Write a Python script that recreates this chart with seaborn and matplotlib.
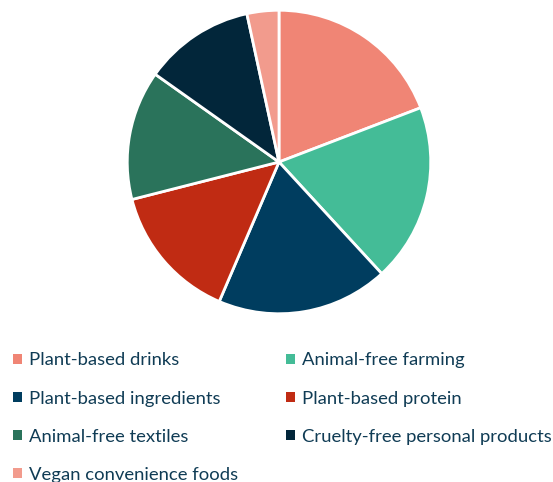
import matplotlib
matplotlib.use("Agg")
import matplotlib.pyplot as plt
from matplotlib.patches import Patch
import seaborn as sns

categories = ["Plant-based drinks", "Animal-free farming", "Plant-based ingredients",
              "Plant-based protein", "Animal-free textiles", "Cruelty-free personal products",
              "Vegan convenience foods"]
values = [19.2, 19.0, 18.3, 14.6, 13.8, 11.8, 3.4]
colors = ["#F08575", "#44BC97", "#003D5F", "#C02B13", "#2A735B", "#02263A", "#F29B8D"]

sns.set_theme(style="white")
plt.rcParams['font.family'] = ['Lato', 'DejaVu Sans']

W, H = 553, 482
fig = plt.figure(figsize=(W / 100, H / 100), dpi=100)
cx, cy, r = 279, 162, 152.5
ax = fig.add_axes([(cx - r) / W, (H - cy - r) / H, 2 * r / W, 2 * r / H])
pal = sns.color_palette(colors)
ax.pie(values, colors=pal, startangle=90, counterclock=False,
       wedgeprops=dict(edgecolor="white", linewidth=2))
ax.set_xlim(-1.005, 1.005)
ax.set_ylim(-1.005, 1.005)
ax.set_aspect("equal")
ax.axis("off")

order = [0, 2, 4, 6, 1, 3, 5]
handles = [Patch(facecolor=pal[i], edgecolor="none", label=categories[i]) for i in order]
leg = fig.legend(handles=handles, loc="upper left", bbox_to_anchor=(6 / W, 1 - 345 / H),
                 ncol=2, frameon=False, fontsize=13.3, handlelength=0.45, handleheight=0.45,
                 handletextpad=0.4, columnspacing=2.6, labelspacing=1.2, borderaxespad=0)
for t in leg.get_texts():
    t.set_color("#103C55")

fig.savefig("out.png", dpi=100)
